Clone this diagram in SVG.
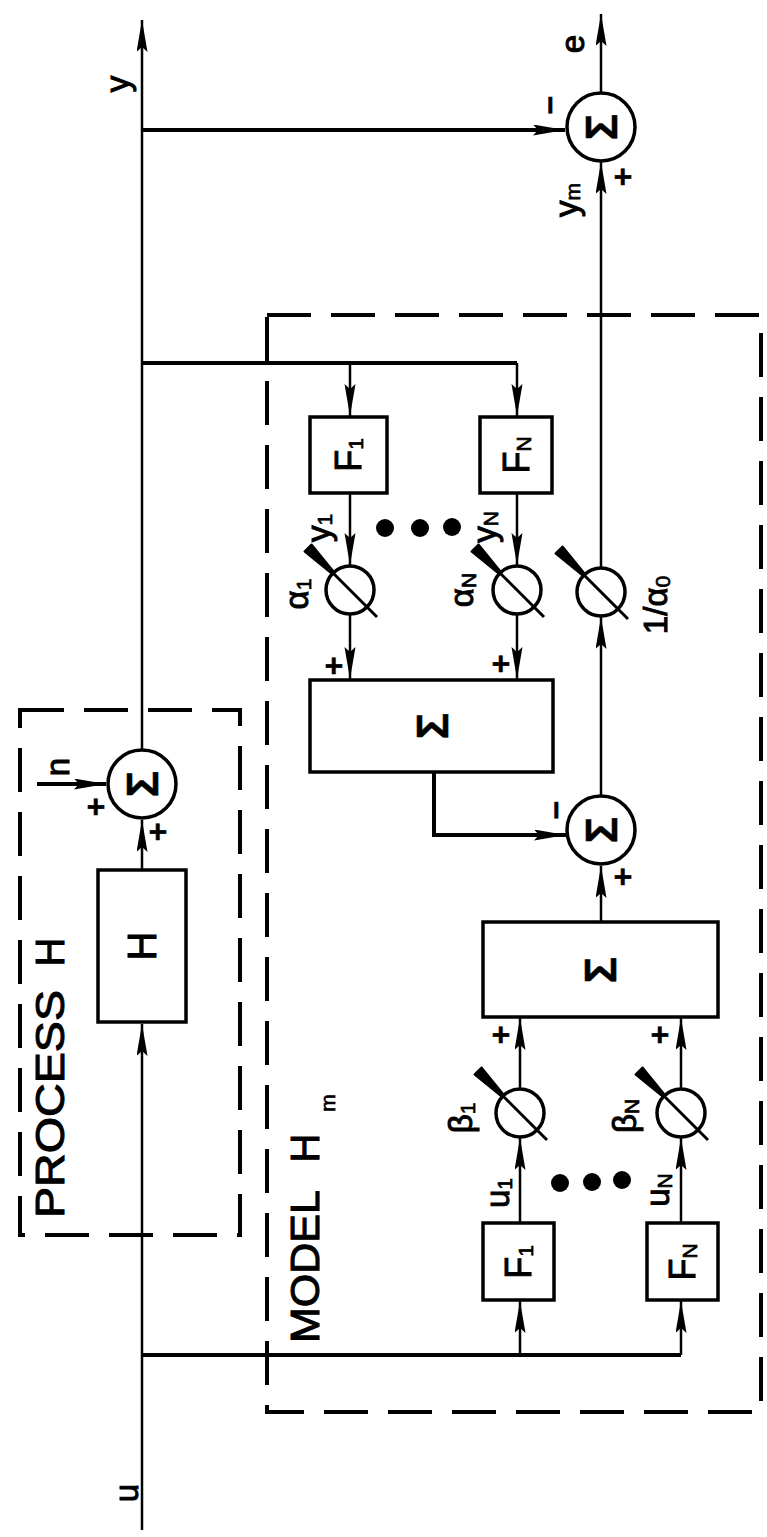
<svg xmlns="http://www.w3.org/2000/svg" width="767" height="1537" viewBox="0 0 767 1537">
<style>
.bg{fill:#fff}
.ln{fill:none;stroke:#000;stroke-width:2.5}
.th{fill:none;stroke:#000;stroke-width:4}
.box{fill:#fff;stroke:#000;stroke-width:3.5}
.dash{fill:none;stroke:#000;stroke-width:4;stroke-dasharray:44 20}
.sum{fill:#fff;stroke:#000;stroke-width:3.5}
.t{font-family:"Liberation Sans",Arial,sans-serif;fill:#000;stroke:#000;stroke-width:1;text-anchor:middle;dominant-baseline:central}
.st{text-anchor:start}
.big{font-size:40px}
.lab{font-size:33px}
.fl{font-size:36px}
.sig{font-size:44px;font-weight:bold;stroke-width:0.5}
.sg{font-size:32px;font-weight:bold;stroke-width:0.5}
.sub{font-size:21px;stroke-width:0.7}
.dot{fill:#000}
</style>
<defs>
<marker id="ar" markerUnits="userSpaceOnUse" markerWidth="34" markerHeight="12" refX="32" refY="5.5" orient="auto">
<path d="M0,0 L32,5.5 L0,11 L5,5.5 z" fill="#000"/>
</marker>
<g id="vg">
<circle cx="0" cy="0" r="24" class="sum"/>
<line x1="27" y1="27" x2="-22" y2="-22" stroke="#000" stroke-width="3"/>
<polygon points="-16.9,-19.1 -38.5,-45.5 -45.5,-38.5 -19.1,-16.9" fill="#000" stroke="#000" stroke-width="2" stroke-linejoin="round"/>
</g>
</defs>
<rect class="bg" x="0" y="0" width="767" height="1537"/>

<g id="process-box">
<rect class="dash" x="20" y="710" width="220" height="525"/>
<text class="t big st" transform="translate(50,1218) rotate(-90)" textLength="228" lengthAdjust="spacingAndGlyphs">PROCESS</text>
<text class="t big" transform="translate(50,952) rotate(-90)">H</text>
</g>

<g id="model-box">
<rect class="dash" x="267" y="315" width="494" height="1097"/>
<text class="t big st" transform="translate(305,1343) rotate(-90)" textLength="153" lengthAdjust="spacingAndGlyphs">MODEL</text>
<text class="t big" transform="translate(305,1148) rotate(-90)">H</text>
<text class="t sub" transform="translate(327,1103) rotate(-90)">m</text>
</g>

<g id="connectors">
<path class="ln" d="M142,1530 V1024" marker-end="url(#ar)"/>
<path class="ln" d="M142,870 V820" marker-end="url(#ar)"/>
<path class="ln" d="M142,750 V20" marker-end="url(#ar)"/>
<path class="th" d="M37,784 H106" marker-end="url(#ar)"/>
<path class="th" d="M142,130 H565" marker-end="url(#ar)"/>
<path class="ln" d="M601,93 V14" marker-end="url(#ar)"/>
<path class="th" d="M142,363 H517"/>
<path class="ln" d="M350,363 V416" marker-end="url(#ar)"/>
<path class="ln" d="M517,363 V416" marker-end="url(#ar)"/>
<path class="ln" d="M350,493 V565" marker-end="url(#ar)"/>
<path class="ln" d="M517,493 V565" marker-end="url(#ar)"/>
<path class="ln" d="M350,614 V679" marker-end="url(#ar)"/>
<path class="ln" d="M517,614 V679" marker-end="url(#ar)"/>
<path class="th" d="M434,772 V835 H566" marker-end="url(#ar)"/>
<path class="ln" d="M601,922 V866" marker-end="url(#ar)"/>
<path class="ln" d="M601,796 V617" marker-end="url(#ar)"/>
<path class="ln" d="M601,568 V162" marker-end="url(#ar)"/>
<path class="ln" d="M520,1089 V1018" marker-end="url(#ar)"/>
<path class="ln" d="M681,1089 V1018" marker-end="url(#ar)"/>
<path class="ln" d="M520,1223 V1138" marker-end="url(#ar)"/>
<path class="ln" d="M681,1223 V1138" marker-end="url(#ar)"/>
<path class="th" d="M142,1355 H681"/>
<path class="ln" d="M520,1355 V1301" marker-end="url(#ar)"/>
<path class="ln" d="M681,1355 V1301" marker-end="url(#ar)"/>
</g>

<g id="labels">
<text class="t lab" transform="translate(117,84) rotate(-90)">y</text>
<text class="t lab" transform="translate(126,1493) rotate(-90)">u</text>
<text class="t lab" transform="translate(572,44) rotate(-90)">e</text>
<text class="t lab" transform="translate(57,767) rotate(-90)">n</text>
<text class="t lab" transform="translate(566,200) rotate(-90)">y<tspan class="sub" dy="6">m</tspan></text>
<text class="t lab" transform="translate(318,528) rotate(-90)">y<tspan class="sub" dy="6">1</tspan></text>
<text class="t lab" transform="translate(484,527) rotate(-90)">y<tspan class="sub" dy="6">N</tspan></text>
<text class="t lab" transform="translate(296,594) rotate(-90)">α<tspan class="sub" dy="7">1</tspan></text>
<text class="t lab" transform="translate(461,590) rotate(-90)">α<tspan class="sub" dy="7">N</tspan></text>
<text class="t lab" transform="translate(655,605) rotate(-90)">1/α<tspan class="sub" dy="7">0</tspan></text>
<text class="t lab" transform="translate(460,1118) rotate(-90)">β<tspan class="sub" dy="7">1</tspan></text>
<text class="t lab" transform="translate(624,1116) rotate(-90)">β<tspan class="sub" dy="7">N</tspan></text>
<text class="t lab" transform="translate(497,1193) rotate(-90)">u<tspan class="sub" dy="7">1</tspan></text>
<text class="t lab" transform="translate(657,1190) rotate(-90)">u<tspan class="sub" dy="7">N</tspan></text>
</g>

<g id="signs">
<text class="t sg" transform="translate(550,105) rotate(-90)">−</text>
<text class="t sg" transform="translate(622,177) rotate(-90)">+</text>
<text class="t sg" transform="translate(95,807) rotate(-90)">+</text>
<text class="t sg" transform="translate(157,832) rotate(-90)">+</text>
<text class="t sg" transform="translate(333,666) rotate(-90)">+</text>
<text class="t sg" transform="translate(500,664) rotate(-90)">+</text>
<text class="t sg" transform="translate(556,810) rotate(-90)">−</text>
<text class="t sg" transform="translate(622,877) rotate(-90)">+</text>
<text class="t sg" transform="translate(500,1035) rotate(-90)">+</text>
<text class="t sg" transform="translate(659,1035) rotate(-90)">+</text>
</g>

<g id="sum-e">
<circle class="sum" cx="601" cy="127" r="34"/>
<text class="t sig" transform="translate(601,127) rotate(-90)">Σ</text>
</g>
<g id="sum-process">
<circle class="sum" cx="142" cy="784" r="34"/>
<text class="t sig" transform="translate(142,784) rotate(-90)">Σ</text>
</g>
<g id="block-H">
<rect class="box" x="98" y="870" width="88" height="152"/>
<text class="t big" transform="translate(142,946) rotate(-90)">H</text>
</g>
<g id="F1-top">
<rect class="box" x="310" y="417" width="77" height="76"/>
<text class="t fl" transform="translate(348,455) rotate(-90)">F<tspan class="sub" dy="7">1</tspan></text>
</g>
<g id="FN-top">
<rect class="box" x="480" y="417" width="72" height="76"/>
<text class="t fl" transform="translate(516,455) rotate(-90)">F<tspan class="sub" dy="7">N</tspan></text>
</g>
<g id="gain-a1"><use href="#vg" x="350" y="590"/></g>
<g id="gain-aN"><use href="#vg" x="517" y="590"/></g>
<g id="gain-a0"><use href="#vg" x="601" y="592"/></g>
<g id="dots-top">
<circle class="dot" cx="385" cy="528" r="9"/>
<circle class="dot" cx="420" cy="528" r="9"/>
<circle class="dot" cx="452" cy="527" r="9"/>
</g>
<g id="sum-box-y">
<rect class="box" x="310" y="680" width="243" height="92"/>
<text class="t sig" transform="translate(432,726) rotate(-90)">Σ</text>
</g>
<g id="sum-model">
<circle class="sum" cx="601" cy="830" r="34"/>
<text class="t sig" transform="translate(601,830) rotate(-90)">Σ</text>
</g>
<g id="sum-box-u">
<rect class="box" x="483" y="922" width="235" height="95"/>
<text class="t sig" transform="translate(600,970) rotate(-90)">Σ</text>
</g>
<g id="gain-b1"><use href="#vg" x="520" y="1113"/></g>
<g id="gain-bN"><use href="#vg" x="681" y="1113"/></g>
<g id="dots-bottom">
<circle class="dot" cx="560" cy="1183" r="9"/>
<circle class="dot" cx="592" cy="1182" r="9"/>
<circle class="dot" cx="622" cy="1180" r="9"/>
</g>
<g id="F1-bottom">
<rect class="box" x="483" y="1223" width="71" height="77"/>
<text class="t fl" transform="translate(518,1262) rotate(-90)">F<tspan class="sub" dy="7">1</tspan></text>
</g>
<g id="FN-bottom">
<rect class="box" x="647" y="1223" width="71" height="77"/>
<text class="t fl" transform="translate(682,1262) rotate(-90)">F<tspan class="sub" dy="7">N</tspan></text>
</g>
</svg>
